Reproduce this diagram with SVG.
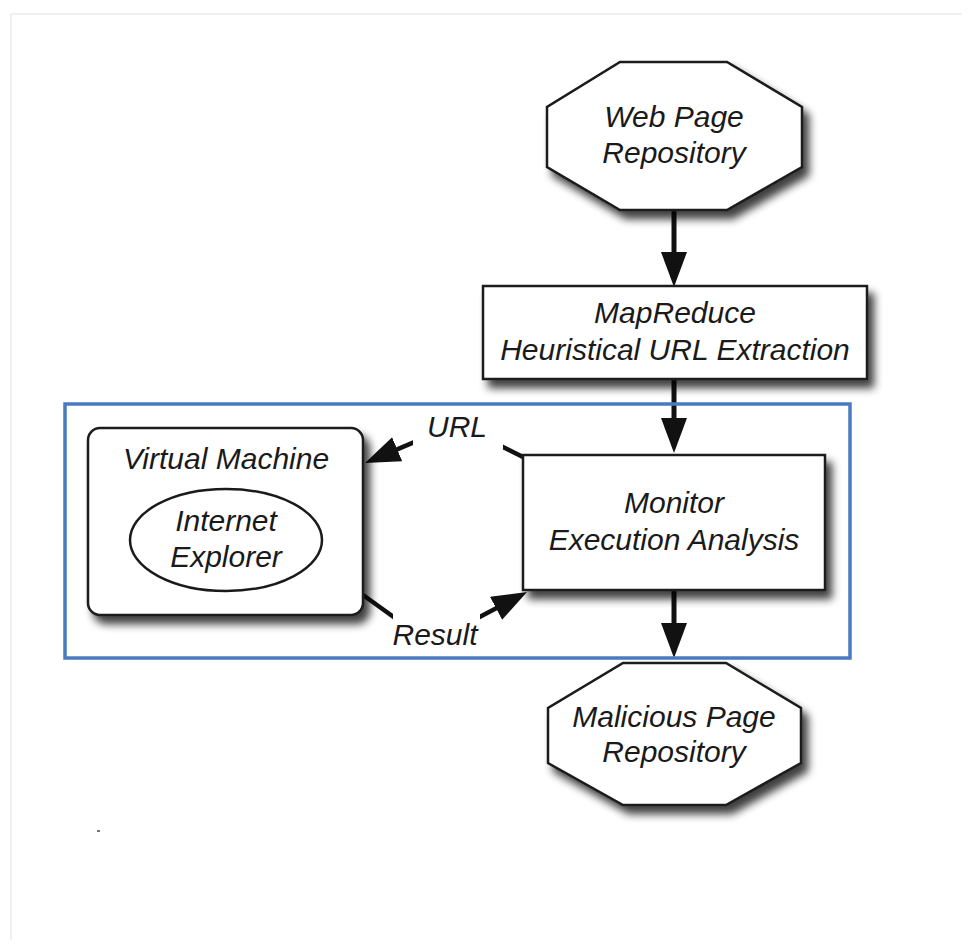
<svg xmlns="http://www.w3.org/2000/svg" width="969" height="948" viewBox="0 0 969 948">
<style>
.node{fill:#fff;stroke:#1a1a1a;stroke-width:2.5;filter:url(#sh)}
.inner{fill:#fff;stroke:#1a1a1a;stroke-width:2.5}
.t{font-family:"Liberation Sans",Arial,sans-serif;font-style:italic;font-size:30px;fill:#1a1a1a;text-anchor:middle}
.edge{fill:none;stroke:#111;stroke-width:5;marker-end:url(#ah)}
.edge2{fill:none;stroke:#111;stroke-width:4.5;stroke-linejoin:miter;marker-end:url(#ah)}
.lbg{fill:#fff;stroke:none}
</style>
<defs>
<filter id="sh" x="-20%" y="-20%" width="150%" height="160%">
<feGaussianBlur in="SourceAlpha" stdDeviation="4.5"/>
<feOffset dx="6" dy="8" result="b"/>
<feComponentTransfer><feFuncA type="linear" slope="0.75"/></feComponentTransfer>
<feMerge><feMergeNode/><feMergeNode in="SourceGraphic"/></feMerge>
</filter>
<marker id="ah" markerUnits="userSpaceOnUse" markerWidth="36" markerHeight="28" viewBox="0 0 36 28" refX="25" refY="13" orient="auto">
<path d="M0,0 L35,13 L0,26 Z" fill="#111"/>
</marker>
</defs>
<rect width="969" height="948" fill="#fff"/>
<line x1="11" y1="14" x2="11" y2="940" stroke="#efefef" stroke-width="2"/>
<line x1="11" y1="14" x2="962" y2="14" stroke="#efefef" stroke-width="2"/>
<rect x="97" y="830" width="3" height="2" fill="#777"/>

<g id="connectors">
<path class="edge" d="M674,210 L674,277"/>
<path class="edge" d="M674,379 L674,443"/>
<path class="edge" d="M674,590 L674,648"/>
<path class="edge2" d="M523,457 L457,424 L374.2,459.1"/>
<path class="edge2" d="M363,595 L430,643 L518.2,596.7"/>
<rect class="lbg" x="413" y="405" width="90" height="44"/>
<text class="t" x="457" y="437">URL</text>
<rect class="lbg" x="393" y="612" width="87" height="44"/>
<text class="t" x="435" y="645">Result</text>
</g>

<g id="web-page-repository">
<polygon class="node" points="620,62 727,62 802,107 802,167 727,210 620,210 547,167 547,107"/>
<text class="t" x="674" y="127">Web Page</text>
<text class="t" x="674" y="163">Repository</text>
</g>

<g id="mapreduce">
<rect class="node" x="483" y="286" width="384" height="93"/>
<text class="t" x="675" y="323">MapReduce</text>
<text class="t" x="675" y="360">Heuristical URL Extraction</text>
</g>

<g id="monitor">
<rect class="node" x="523" y="455" width="302" height="135"/>
<text class="t" x="674" y="513">Monitor</text>
<text class="t" x="674" y="550">Execution Analysis</text>
</g>

<g id="virtual-machine">
<rect class="node" x="88" y="428" width="275" height="187" rx="12" ry="12"/>
<text class="t" x="226" y="469">Virtual Machine</text>
<g id="internet-explorer">
<ellipse class="inner" cx="226" cy="540" rx="96" ry="51"/>
<text class="t" x="226" y="531">Internet</text>
<text class="t" x="226" y="567">Explorer</text>
</g>
</g>

<g id="malicious-page-repository">
<polygon class="node" points="623,663 726,663 801,708 801,763 726,805 623,805 548,763 548,708"/>
<text class="t" x="674" y="727">Malicious Page</text>
<text class="t" x="674" y="762">Repository</text>
</g>

<g id="boundary">
<rect x="65" y="404" width="785" height="254" fill="none" stroke="#4a7bbf" stroke-width="3.5"/>
</g>
</svg>
